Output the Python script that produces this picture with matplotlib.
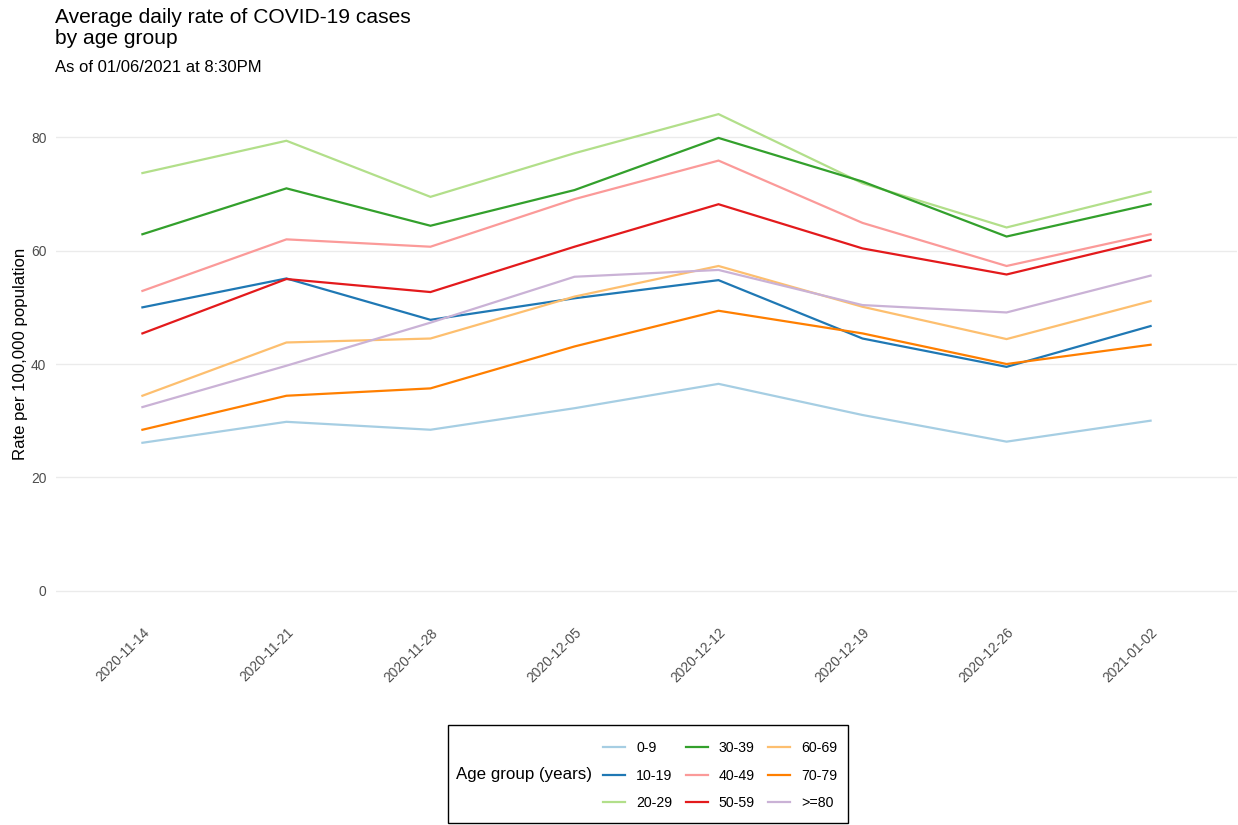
import matplotlib
matplotlib.use("Agg")
import matplotlib.pyplot as plt
from matplotlib.patches import Rectangle

plt.rcParams['font.family'] = ['Liberation Sans', 'DejaVu Sans']

dates = ["2020-11-14", "2020-11-21", "2020-11-28", "2020-12-05",
         "2020-12-12", "2020-12-19", "2020-12-26", "2021-01-02"]
age_groups = ["0-9", "10-19", "20-29", "30-39", "40-49", "50-59", "60-69", "70-79", ">=80"]
colors = ['#A6CEE3', '#1F78B4', '#B2DF8A', '#33A02C', '#FB9A99',
          '#E31A1C', '#FDBF6F', '#FF7F00', '#CAB2D6']

rate_0_9 = [26.1, 29.8, 28.4, 32.2, 36.5, 31.0, 26.3, 30.0]
rate_10_19 = [50.0, 55.1, 47.8, 51.6, 54.8, 44.5, 39.5, 46.7]
rate_20_29 = [73.7, 79.4, 69.5, 77.2, 84.1, 71.9, 64.1, 70.4]
rate_30_39 = [62.9, 71.0, 64.4, 70.7, 79.9, 72.2, 62.5, 68.2]
rate_40_49 = [52.9, 62.0, 60.7, 69.1, 75.9, 64.9, 57.3, 62.9]
rate_50_59 = [45.4, 55.0, 52.7, 60.7, 68.2, 60.4, 55.8, 61.9]
rate_60_69 = [34.4, 43.8, 44.5, 51.9, 57.3, 50.1, 44.4, 51.1]
rate_70_79 = [28.4, 34.4, 35.7, 43.1, 49.4, 45.4, 40.0, 43.4]
rate_80_plus = [32.4, 39.7, 47.3, 55.4, 56.6, 50.4, 49.1, 55.6]

series = [rate_0_9, rate_10_19, rate_20_29, rate_30_39, rate_40_49,
          rate_50_59, rate_60_69, rate_70_79, rate_80_plus]

W, H = 1238, 825
fig = plt.figure(figsize=(W / 100, H / 100), dpi=100)
ax = fig.add_axes([56 / W, (H - 614.5) / H, (1237 - 56) / W, (614.5 - 90.3) / H])

x = list(range(len(dates)))
lines = []
for vals, lab, c in zip(series, age_groups, colors):
    ln, = ax.plot(x, vals, color=c, lw=1.6, label=lab, solid_joinstyle='miter')
    lines.append(ln)

ax.set_xlim(-0.6, len(dates) - 1 + 0.6)
ymax = max(max(s) for s in series)
ax.set_ylim(-0.05 * ymax, ymax * 1.05)
ax.set_yticks([0, 20, 40, 60, 80])
ax.set_xticks(x)
ax.set_xticklabels(dates, rotation=45, ha='right', rotation_mode='anchor')
ax.grid(axis='y', color='#EBEBEB', lw=1.0)
ax.grid(axis='x', visible=False)
ax.set_axisbelow(True)
for s in ax.spines.values():
    s.set_visible(False)
ax.tick_params(axis='both', length=0, colors='#4D4D4D', labelsize=9.9)
ax.tick_params(axis='x', pad=8)
ax.tick_params(axis='y', pad=7)

fig.text(21 / W, 1 - 354 / H, "Rate per 100,000 population", fontsize=12.1,
         rotation=90, va='center', ha='center')

fig.text(55 / W, 1 - 23.4 / H, "Average daily rate of COVID-19 cases",
         fontsize=15.1, va='baseline', ha='left')
fig.text(55 / W, 1 - 44.3 / H, "by age group",
         fontsize=15.1, va='baseline', ha='left')
fig.text(55 / W, 1 - 71.7 / H, "As of 01/06/2021 at 8:30PM", fontsize=12.0,
         va='baseline', ha='left')

# legend box
fig.add_artist(Rectangle((448 / W, (H - 823) / H), 400 / W, 98 / H,
                         transform=fig.transFigure, fill=False, edgecolor='black', lw=1.0))
fig.text(456 / W, 1 - 775 / H, "Age group (years)", fontsize=12.2, va='center', ha='left')
fig.legend(handles=lines, labels=age_groups, ncol=3, frameon=False,
           loc='center left', bbox_to_anchor=(603 / W, 1 - 775.5 / H),
           fontsize=10.2, handlelength=1.55, handletextpad=0.78, columnspacing=0.95,
           labelspacing=0.98, borderpad=0, borderaxespad=0)

fig.savefig("out.png", dpi=100)
